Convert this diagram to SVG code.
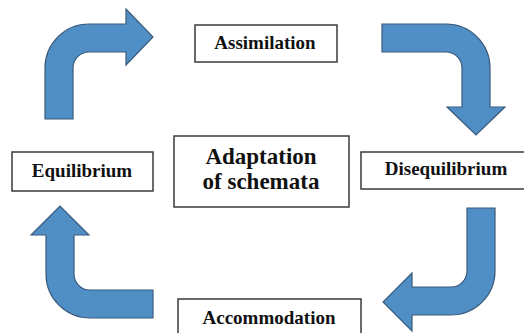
<svg xmlns="http://www.w3.org/2000/svg" width="524" height="333" viewBox="0 0 524 333">
<style>
.box{fill:#fff;stroke:#3a3a3a;stroke-width:1.5}
text{font-family:'Liberation Serif','Times New Roman',serif;font-weight:bold;font-size:19px;fill:#111;text-anchor:middle}
.big{font-size:23px}
.arr{fill:#508fc6;stroke:#3b5a7a;stroke-width:1.2}
</style>
<rect width="524" height="333" fill="#fff"/>
<g id="connectors">
<path class="arr" d="M45,119 V68 A44,44 0 0 1 89,24 H126 V9 L153,37 L126,65 V52 H89 A16,16 0 0 0 73,68 V119 Z"/>
<path class="arr" d="M382,24 H446 A44,44 0 0 1 490,68 V107 H505 L476,135 L447,107 H462 V68 A16,16 0 0 0 446,52 H382 Z"/>
<path class="arr" d="M467,208 H495 V271 A44,44 0 0 1 451,315 H412 V331 L383,302 L412,273 V287 H451 A16,16 0 0 0 467,271 Z"/>
<path class="arr" d="M153,318 H90 A44,44 0 0 1 46,274 V235 H31 L60,206 L89,235 H74 V274 A16,16 0 0 0 90,290 H153 Z"/>
</g>
<g id="assimilation"><rect class="box" x="195" y="25" width="142" height="37"/><text x="265" y="49">Assimilation</text></g>
<g id="adaptation"><rect class="box" x="174" y="136" width="175" height="71"/><text class="big" x="261" y="164">Adaptation</text><text class="big" x="261" y="189">of schemata</text></g>
<g id="equilibrium"><rect class="box" x="12" y="152" width="141" height="39"/><text x="82" y="177">Equilibrium</text></g>
<g id="disequilibrium"><rect class="box" x="361" y="152" width="170" height="37"/><text x="446" y="175">Disequilibrium</text></g>
<g id="accommodation"><rect class="box" x="178" y="299" width="183" height="45"/><text x="269" y="324">Accommodation</text></g>
</svg>
